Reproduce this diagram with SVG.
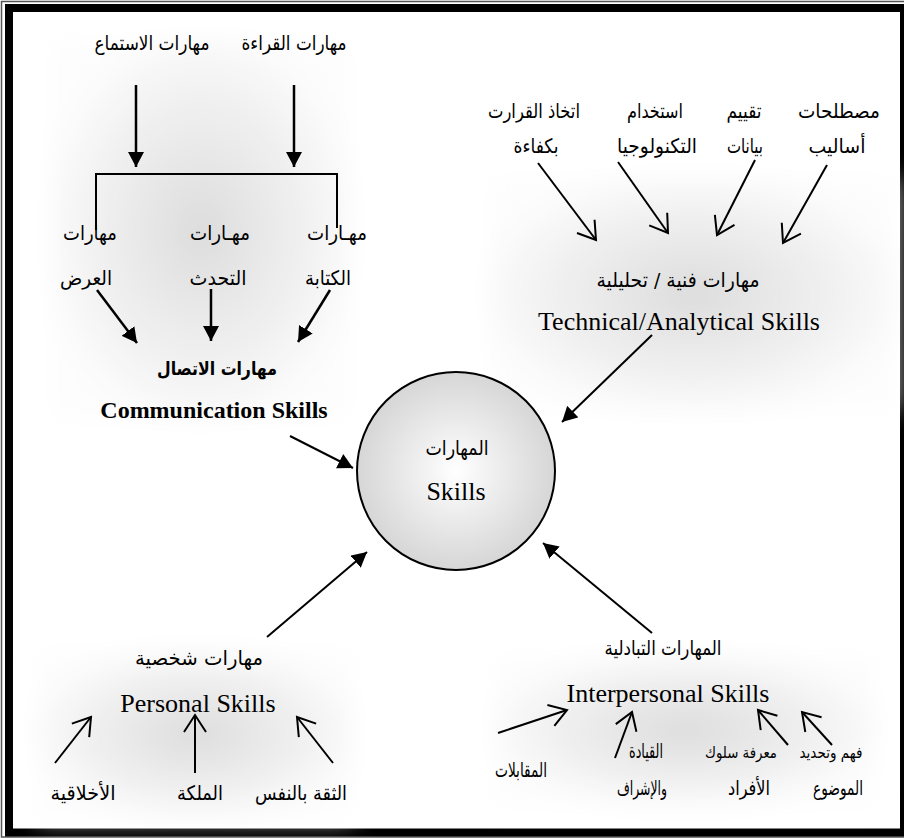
<svg xmlns="http://www.w3.org/2000/svg" width="904" height="838" viewBox="0 0 904 838">
  <style>
    .ar { font-family: "DejaVu Sans", sans-serif; font-size: 20px; fill: #000; }
    .sm { font-size: 16px; }
    .arb { font-family: "DejaVu Sans", sans-serif; font-size: 19px; font-weight: bold; fill: #000; }
    .en { font-family: "Liberation Serif", "Times New Roman", serif; font-size: 26px; fill: #000; }
    .enb { font-family: "Liberation Serif", "Times New Roman", serif; font-size: 24px; font-weight: bold; fill: #000; }
    .haze { filter: url(#soft); }
    .wire { fill: none; stroke: #000; stroke-width: 2.5; }
    .thin { fill: none; stroke: #000; stroke-width: 2; }
    .solid { marker-end: url(#tri); }
    .open { marker-end: url(#vee); }
  </style>
  <defs>
    <filter id="soft" x="-20%" y="-20%" width="140%" height="140%">
      <feGaussianBlur stdDeviation="12"/>
    </filter>
    <radialGradient id="shade" cx="0.5" cy="0.5" r="0.55">
      <stop offset="0" stop-color="#dcdcdc"/>
      <stop offset="0.5" stop-color="#ececec"/>
      <stop offset="1" stop-color="#fdfdfd"/>
    </radialGradient>
    <radialGradient id="ball" cx="0.5" cy="0.5" r="0.5">
      <stop offset="0" stop-color="#ffffff"/>
      <stop offset="1" stop-color="#d6d6d6"/>
    </radialGradient>
    <marker id="tri" markerUnits="userSpaceOnUse" markerWidth="16" markerHeight="16" refX="15" refY="8" orient="auto">
      <path d="M0,0 L15,8 L0,16 z" fill="#000"/>
    </marker>
    <marker id="vee" markerUnits="userSpaceOnUse" markerWidth="22" markerHeight="26" refX="18" refY="12" orient="auto">
      <path d="M1,1 L18,12 L1,23" fill="none" stroke="#000" stroke-width="2"/>
    </marker>
  </defs>

  <rect width="904" height="838" fill="#fff"/>

  <!-- double frame -->
  <rect x="1.5" y="1.5" width="912" height="835.5" fill="none" stroke="#555" stroke-width="1.5"/>
  <rect x="9" y="8" width="895" height="824.5" fill="none" stroke="#000" stroke-width="8"/>

  <!-- communication cluster -->
  <g id="communication">
    <rect class="haze" x="52" y="40" width="298" height="380" fill="url(#shade)"/>
    <text class="ar" direction="rtl" x="294" y="50" text-anchor="middle" textLength="105" lengthAdjust="spacingAndGlyphs">مهارات القراءة</text>
    <text class="ar" direction="rtl" x="152" y="50" text-anchor="middle" textLength="115" lengthAdjust="spacingAndGlyphs">مهارات الاستماع</text>
    <text class="ar" direction="rtl" x="90" y="240" text-anchor="middle" textLength="54" lengthAdjust="spacingAndGlyphs">مهارات</text>
    <text class="ar" direction="rtl" x="220" y="240" text-anchor="middle" textLength="60" lengthAdjust="spacingAndGlyphs">مهـارات</text>
    <text class="ar" direction="rtl" x="337" y="240" text-anchor="middle" textLength="60" lengthAdjust="spacingAndGlyphs">مهـارات</text>
    <text class="ar" direction="rtl" x="86" y="285" text-anchor="middle" textLength="52" lengthAdjust="spacingAndGlyphs">العرض</text>
    <text class="ar" direction="rtl" x="218" y="285" text-anchor="middle" textLength="57" lengthAdjust="spacingAndGlyphs">التحدث</text>
    <text class="ar" direction="rtl" x="328" y="285" text-anchor="middle" textLength="46" lengthAdjust="spacingAndGlyphs">الكتابة</text>
    <text class="arb" direction="rtl" x="217" y="375" text-anchor="middle" textLength="120" lengthAdjust="spacingAndGlyphs">مهارات الاتصال</text>
    <text class="enb" x="214" y="418" text-anchor="middle">Communication Skills</text>
  </g>

  <!-- technical / analytical cluster -->
  <g id="technical">
    <rect class="haze" x="490" y="178" width="405" height="232" fill="url(#shade)"/>
    <text class="ar" direction="rtl" x="534" y="118" text-anchor="middle" textLength="92" lengthAdjust="spacingAndGlyphs">اتخاذ القرارت</text>
    <text class="ar" direction="rtl" x="655" y="118" text-anchor="middle" textLength="56" lengthAdjust="spacingAndGlyphs">استخدام</text>
    <text class="ar" direction="rtl" x="744" y="118" text-anchor="middle" textLength="35" lengthAdjust="spacingAndGlyphs">تقييم</text>
    <text class="ar" direction="rtl" x="839" y="118" text-anchor="middle" textLength="82" lengthAdjust="spacingAndGlyphs">مصطلحات</text>
    <text class="ar" direction="rtl" x="536" y="153" text-anchor="middle" textLength="45" lengthAdjust="spacingAndGlyphs">بكفاءة</text>
    <text class="ar" direction="rtl" x="657" y="153" text-anchor="middle" textLength="80" lengthAdjust="spacingAndGlyphs">التكنولوجيا</text>
    <text class="ar" direction="rtl" x="745" y="153" text-anchor="middle" textLength="36" lengthAdjust="spacingAndGlyphs">بيانات</text>
    <text class="ar" direction="rtl" x="837" y="153" text-anchor="middle" textLength="57" lengthAdjust="spacingAndGlyphs">أساليب</text>
    <text class="ar" direction="rtl" x="678" y="287" text-anchor="middle" textLength="163" lengthAdjust="spacingAndGlyphs">مهارات فنية / تحليلية</text>
    <text class="en" x="679" y="330" text-anchor="middle">Technical/Analytical Skills</text>
  </g>

  <!-- central skills node -->
  <g id="skills">
    <circle cx="456" cy="471" r="99" fill="url(#ball)" stroke="#000" stroke-width="2"/>
    <text class="ar" direction="rtl" x="457" y="455" text-anchor="middle" textLength="63" lengthAdjust="spacingAndGlyphs">المهارات</text>
    <text class="en" x="456" y="500" text-anchor="middle">Skills</text>
  </g>

  <!-- personal cluster -->
  <g id="personal">
    <rect class="haze" x="38" y="650" width="315" height="168" fill="url(#shade)"/>
    <text class="ar" direction="rtl" x="199" y="665" text-anchor="middle" textLength="128" lengthAdjust="spacingAndGlyphs">مهارات شخصية</text>
    <text class="en" x="198" y="712" text-anchor="middle">Personal Skills</text>
    <text class="ar" direction="rtl" x="83" y="800" text-anchor="middle" textLength="65" lengthAdjust="spacingAndGlyphs">الأخلاقية</text>
    <text class="ar" direction="rtl" x="200" y="800" text-anchor="middle" textLength="46" lengthAdjust="spacingAndGlyphs">الملكة</text>
    <text class="ar" direction="rtl" x="301" y="800" text-anchor="middle" textLength="92" lengthAdjust="spacingAndGlyphs">الثقة بالنفس</text>
  </g>

  <!-- interpersonal cluster -->
  <g id="interpersonal">
    <rect class="haze" x="495" y="655" width="380" height="150" fill="url(#shade)"/>
    <text class="ar" direction="rtl" x="663" y="655" text-anchor="middle" textLength="117" lengthAdjust="spacingAndGlyphs">المهارات التبادلية</text>
    <text class="en" x="668" y="702" text-anchor="middle">Interpersonal Skills</text>
    <text class="ar" direction="rtl" x="521" y="777" text-anchor="middle" textLength="52" lengthAdjust="spacingAndGlyphs">المقابلات</text>
    <text class="ar" direction="rtl" x="646" y="758" text-anchor="middle" textLength="34" lengthAdjust="spacingAndGlyphs">القيادة</text>
    <text class="ar" direction="rtl" x="642" y="795" text-anchor="middle" textLength="50" lengthAdjust="spacingAndGlyphs">والإشراف</text>
    <text class="ar sm" direction="rtl" x="741" y="758" text-anchor="middle" textLength="72" lengthAdjust="spacingAndGlyphs">معرفة سلوك</text>
    <text class="ar" direction="rtl" x="749" y="795" text-anchor="middle" textLength="42" lengthAdjust="spacingAndGlyphs">الأفراد</text>
    <text class="ar sm" direction="rtl" x="831" y="758" text-anchor="middle" textLength="63" lengthAdjust="spacingAndGlyphs">فهم وتحديد</text>
    <text class="ar" direction="rtl" x="838" y="795" text-anchor="middle" textLength="50" lengthAdjust="spacingAndGlyphs">الموضوع</text>
  </g>

  <!-- connectors -->
  <g id="connectors">
    <!-- communication: inputs and bracket -->
    <line class="wire solid" x1="136" y1="85" x2="136" y2="167"/>
    <line class="wire solid" x1="294" y1="85" x2="294" y2="167"/>
    <polyline class="thin" points="96,230 96,174 338,174"/>
    <line class="thin" x1="337" y1="174" x2="337" y2="228"/>
    <line class="wire solid" x1="97" y1="290" x2="137" y2="343"/>
    <line class="wire solid" x1="211" y1="289" x2="211" y2="341"/>
    <line class="wire solid" x1="330" y1="290" x2="298" y2="342"/>
    <!-- technical inputs -->
    <line class="thin open" x1="538" y1="163" x2="596" y2="240"/>
    <line class="thin open" x1="618" y1="162" x2="668" y2="233"/>
    <line class="thin open" x1="755" y1="160" x2="717" y2="235"/>
    <line class="thin open" x1="827" y1="165" x2="783" y2="243"/>
    <!-- into the central node -->
    <line class="thin solid" x1="290" y1="436" x2="353" y2="468"/>
    <line class="thin solid" x1="652" y1="335" x2="562" y2="422"/>
    <line class="thin solid" x1="267" y1="637" x2="367" y2="552"/>
    <line class="thin solid" x1="652" y1="633" x2="543" y2="543"/>
    <!-- personal inputs -->
    <line class="thin open" x1="55" y1="763" x2="91" y2="717"/>
    <line class="thin open" x1="195" y1="773" x2="195" y2="715"/>
    <line class="thin open" x1="333" y1="763" x2="297" y2="717"/>
    <!-- interpersonal inputs -->
    <line class="thin open" x1="498" y1="733" x2="567" y2="710"/>
    <line class="thin open" x1="615" y1="758" x2="632" y2="712"/>
    <line class="thin open" x1="788" y1="745" x2="758" y2="710"/>
    <line class="thin open" x1="832" y1="745" x2="802" y2="712"/>
  </g>
</svg>
